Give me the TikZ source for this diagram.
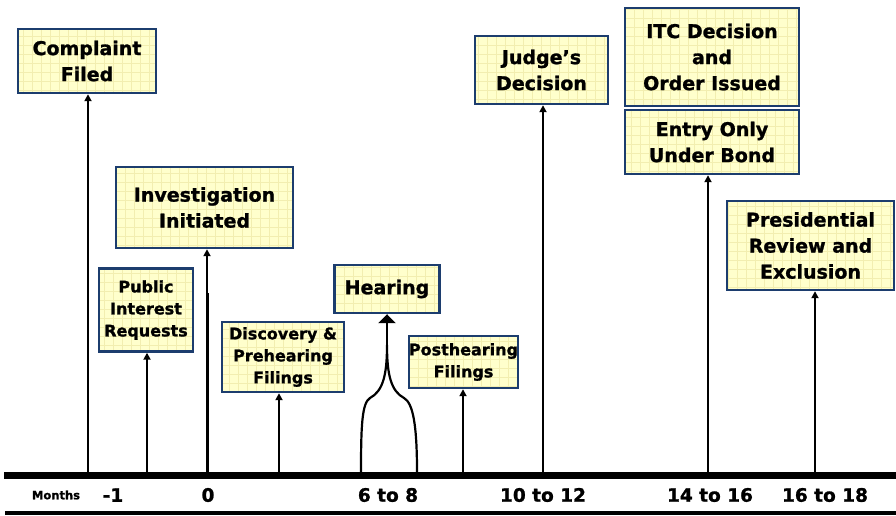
\documentclass[tikz,border=0pt]{standalone}
\usepackage{fontspec}
\setmainfont{DejaVu Sans}[BoldFeatures={FakeBold=1.2}]
\usetikzlibrary{arrows.meta}
\definecolor{boxfill}{HTML}{FFFFCC}
\definecolor{boxgrid}{HTML}{F2EEB0}
\definecolor{boxline}{HTML}{1C3D6E}
\tikzset{
	event/.style={draw=boxline,line width=2.4pt,fill=boxfill,inner sep=0pt,align=center,
		font=\bfseries\fontsize{19}{26}\selectfont,
		path picture={\draw[boxgrid,line width=0.5pt] (path picture bounding box.south west) grid[step=9pt] (path picture bounding box.north east);}},
	small/.style={font=\bfseries\fontsize{16}{22}\selectfont},
	tick/.style={line width=2pt,-{Triangle[length=7pt,width=7pt]}},
	month/.style={font=\bfseries\fontsize{18.5}{20}\selectfont}
}

\begin{document}
\begin{tikzpicture}[x=1pt,y=-1pt]
	\useasboundingbox (0,0) rectangle (896,515);

	\node[event,minimum width=138pt,minimum height=64pt] (complaint) at (87,61) {Complaint\\Filed};
	\node[event,minimum width=177pt,minimum height=81pt] (investigation) at (204.5,207.5) {Investigation\\Initiated};
	\node[event,small,minimum width=94pt,minimum height=83pt] (public) at (146,310) {Public\\Interest\\Requests};
	\node[event,small,minimum width=122pt,minimum height=70pt] (discovery) at (283,357) {Discovery \&\\Prehearing\\Filings};
	\node[event,minimum width=105pt,minimum height=48pt] (hearing) at (387,289) {Hearing};
	\node[event,small,minimum width=105pt,minimum height=52pt] (posthearing) at (463.5,362) {Posthearing\\Filings};
	\node[event,minimum width=133pt,minimum height=68pt] (judge) at (541.5,70) {Judge’s\\Decision};
	\node[event,minimum width=174pt,minimum height=98pt] (itc) at (712,57) {ITC Decision\\and\\Order Issued};
	\node[event,minimum width=174pt,minimum height=64pt] (bond) at (712,142) {Entry Only\\Under Bond};
	\node[event,minimum width=167pt,minimum height=89pt] (president) at (810.5,245.5) {Presidential\\Review and\\Exclusion};

	\coordinate (m1) at (88,472);
	\coordinate (m2) at (147,472);
	\coordinate (m3) at (207,472);
	\coordinate (m4) at (279,472);
	\coordinate (m5) at (463,472);
	\coordinate (m6) at (543,472);
	\coordinate (m7) at (708,472);
	\coordinate (m8) at (815,472);
	\coordinate (hl) at (361,472);
	\coordinate (hr) at (417,472);
	\coordinate (hj) at (387,345);
	\coordinate (invjoin) at (207,293);

	\draw[tick] (m1) -- (m1 |- complaint.south);
	\draw[tick] (m2) -- (m2 |- public.south);
	\draw[tick] (m3) -- (m3 |- investigation.south);
	\draw[line width=3pt] (m3) -- (invjoin);
	\draw[tick] (m4) -- (m4 |- discovery.south);
	\draw[tick] (m5) -- (m5 |- posthearing.south);
	\draw[tick] (m6) -- (m6 |- judge.south);
	\draw[tick] (m7) -- (m7 |- bond.south);
	\draw[tick] (m8) -- (m8 |- president.south);

	\draw[line width=2.2pt] (hl) .. controls (361,425) and (362,403) .. (370,398)
		.. controls (383,391) and (387,375) .. (hj)
		.. controls (387,375) and (391,391) .. (404,398)
		.. controls (413,403) and (417,425) .. (hr);
	\draw[line width=2.6pt,-{Triangle[length=9pt,width=17pt]}] (hj) -- (hj |- hearing.south);

	\draw[line width=7pt] (4,475) -- (896,475);
	\draw[line width=4pt] (5,513) -- (896,513);

	\node[font=\bfseries\fontsize{11.5}{12}\selectfont] (lmonths) at (56,495) {Months};
	\node[month] (lminus) at (113,495) {-1};
	\node[month] (lzero) at (208,495) {0};
	\node[month] (lsix) at (388,495) {6 to 8};
	\node[month] (lten) at (543,495) {10 to 12};
	\node[month] (lfourteen) at (710,495) {14 to 16};
	\node[month] (lsixteen) at (825,495) {16 to 18};
\end{tikzpicture}
\end{document}
